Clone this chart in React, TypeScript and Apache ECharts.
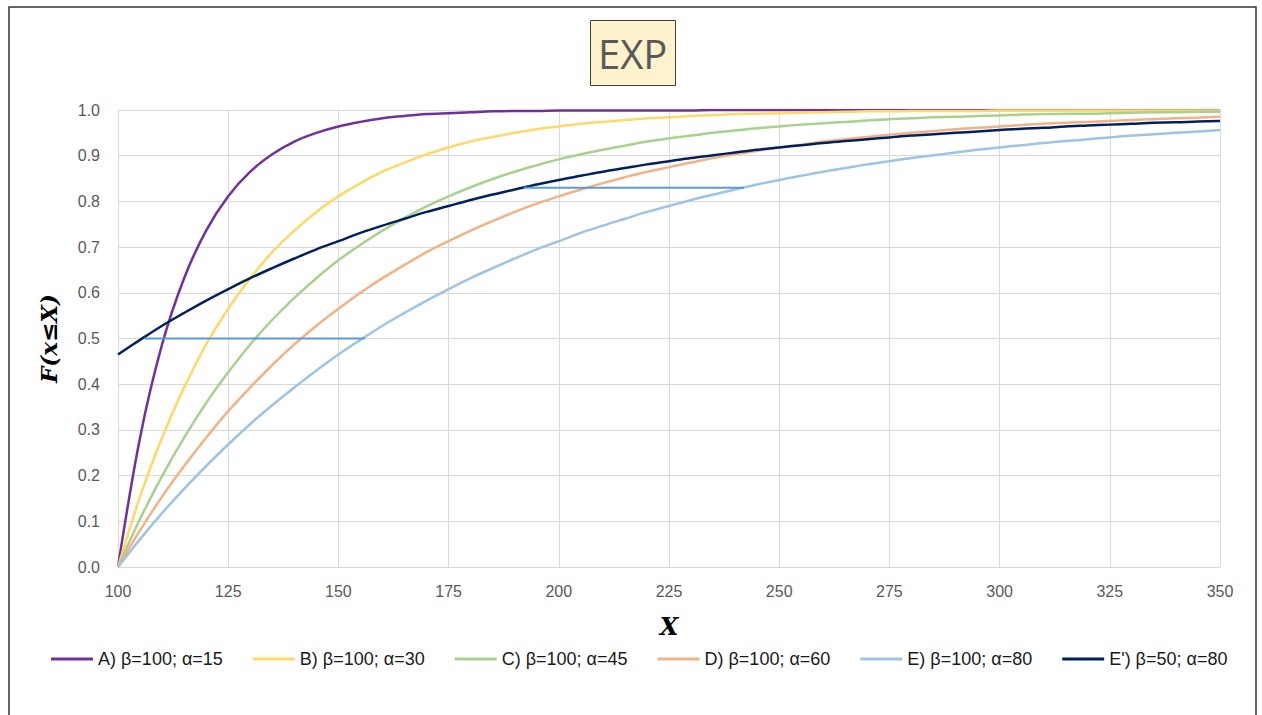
import React, { useEffect, useRef } from "react";
import * as echarts from "echarts";

const xValues = [100,105,110,115,120,125,130,135,140,145,150,155,160,165,170,175,180,185,190,195,200,205,210,215,220,225,230,235,240,245,250,255,260,265,270,275,280,285,290,295,300,305,310,315,320,325,330,335,340,345,350];

const seriesA = [0,0.283,0.487,0.632,0.736,0.811,0.865,0.903,0.931,0.950,0.964,0.974,0.982,0.987,0.991,0.993,0.995,0.997,0.998,0.998,0.999,0.999,0.999,0.999,0.999,0.999,0.999,1,1,1,1,1,1,1,1,1,1,1,1,1,1,1,1,1,1,1,1,1,1,1,1];
const seriesB = [0,0.154,0.283,0.393,0.487,0.565,0.632,0.689,0.736,0.777,0.811,0.840,0.865,0.885,0.903,0.918,0.931,0.941,0.950,0.958,0.964,0.970,0.974,0.978,0.982,0.984,0.987,0.989,0.991,0.992,0.993,0.994,0.995,0.996,0.997,0.997,0.998,0.998,0.998,0.998,0.999,0.999,0.999,0.999,0.999,0.999,0.999,0.999,0.999,0.999,0.999];
const seriesC = [0,0.105,0.199,0.283,0.359,0.426,0.487,0.541,0.589,0.632,0.671,0.705,0.736,0.764,0.789,0.811,0.831,0.849,0.865,0.879,0.892,0.903,0.913,0.922,0.931,0.938,0.944,0.950,0.955,0.960,0.964,0.968,0.971,0.974,0.977,0.980,0.982,0.984,0.985,0.987,0.988,0.990,0.991,0.992,0.992,0.993,0.994,0.995,0.995,0.996,0.996];
const seriesD = [0,0.080,0.154,0.221,0.283,0.341,0.393,0.442,0.487,0.528,0.565,0.600,0.632,0.661,0.689,0.713,0.736,0.757,0.777,0.795,0.811,0.826,0.840,0.853,0.865,0.875,0.885,0.895,0.903,0.911,0.918,0.924,0.931,0.936,0.941,0.946,0.950,0.954,0.958,0.961,0.964,0.967,0.970,0.972,0.974,0.976,0.978,0.980,0.982,0.983,0.985];
const seriesE = [0,0.061,0.118,0.171,0.221,0.268,0.313,0.354,0.393,0.430,0.465,0.497,0.528,0.556,0.583,0.608,0.632,0.654,0.675,0.695,0.713,0.731,0.747,0.762,0.777,0.790,0.803,0.815,0.826,0.837,0.847,0.856,0.865,0.873,0.881,0.888,0.895,0.901,0.907,0.913,0.918,0.923,0.928,0.932,0.936,0.940,0.944,0.947,0.950,0.953,0.956];
const seriesE2 = [0.465,0.497,0.528,0.556,0.583,0.608,0.632,0.654,0.675,0.695,0.713,0.731,0.747,0.762,0.777,0.790,0.803,0.815,0.826,0.837,0.847,0.856,0.865,0.873,0.881,0.888,0.895,0.901,0.907,0.913,0.918,0.923,0.928,0.932,0.936,0.940,0.944,0.947,0.950,0.953,0.956,0.959,0.961,0.964,0.966,0.968,0.970,0.972,0.973,0.975,0.976];

const seriesNames = [
  "A) β=100; α=15",
  "B) β=100; α=30",
  "C) β=100; α=45",
  "D) β=100; α=60",
  "E) β=100; α=80",
  "E') β=50; α=80",
];
const seriesColors = ["#7030A0", "#FFD966", "#A9D18E", "#F4B183", "#9DC3E6", "#002060"];
const allSeries = [seriesA, seriesB, seriesC, seriesD, seriesE, seriesE2];

const refLine1X = [106, 156];
const refLine1Y = 0.5;
const refLine2X = [192, 242];
const refLine2Y = 0.83;

export default function App() {
  const ref = useRef<HTMLDivElement>(null);
  useEffect(() => {
    if (!ref.current) return;
    const chart = echarts.init(ref.current, undefined, { renderer: "svg" });
    const lineSeries = allSeries.map((vals, i) => ({
      name: seriesNames[i],
      type: "line",
      data: xValues.map((x, j) => [x, vals[j]]),
      smooth: 0.35,
      showSymbol: false,
      lineStyle: { color: seriesColors[i], width: 2.5 },
      itemStyle: { color: seriesColors[i] },
      z: i === 5 ? 4 : 3,
    }));
    const refSeries = [
      { x: refLine1X, y: refLine1Y },
      { x: refLine2X, y: refLine2Y },
    ].map((r, k) => ({
      name: "ref" + k,
      type: "line",
      data: r.x.map((x) => [x, r.y]),
      showSymbol: false,
      lineStyle: { color: "#5B9BD5", width: 2 },
      z: 5,
    }));
    chart.setOption({
      animation: false,
      title: {
        text: "EXP",
        left: 590,
        top: 20,
        backgroundColor: "#FFF2CC",
        borderColor: "#404040",
        borderWidth: 1,
        padding: [13, 8],
        textStyle: {
          fontFamily: "Open Sans",
          fontSize: 40,
          fontWeight: "normal",
          color: "#595959",
        },
      },
      graphic: [
        {
          type: "rect",
          shape: { x: 9, y: 7, width: 1247, height: 800 },
          style: { fill: "none", stroke: "#333333", lineWidth: 1.5 },
          silent: true,
        },
      ],
      grid: { left: 118, right: 42, top: 110, bottom: 148 },
      legend: {
        data: seriesNames,
        top: 645,
        left: 46,
        itemWidth: 42,
        itemHeight: 3,
        itemGap: 30,
        icon: "rect",
        textStyle: { fontFamily: "Liberation Sans", fontSize: 18, color: "#1a1a1a" },
      },
      xAxis: {
        type: "value",
        min: 100,
        max: 350,
        interval: 25,
        name: "X",
        nameLocation: "middle",
        nameGap: 47,
        nameTextStyle: {
          fontFamily: "DejaVu Serif",
          fontStyle: "italic",
          fontWeight: "bold",
          fontSize: 24,
          color: "#000",
        },
        axisLine: { show: true, lineStyle: { color: "#D9D9D9", width: 1 } },
        axisTick: { show: false },
        splitLine: { show: true, lineStyle: { color: "#D9D9D9", width: 1 } },
        axisLabel: { fontFamily: "Liberation Sans", fontSize: 16, color: "#595959", margin: 16 },
      },
      yAxis: {
        type: "value",
        min: 0,
        max: 1,
        interval: 0.1,
        name: "F(x≤X)",
        nameLocation: "middle",
        nameGap: 58,
        nameRotate: 90,
        nameTextStyle: {
          fontFamily: "DejaVu Serif",
          fontStyle: "italic",
          fontWeight: "bold",
          fontSize: 23,
          color: "#000",
        },
        axisLine: { show: false },
        axisTick: { show: false },
        splitLine: { show: true, lineStyle: { color: "#D9D9D9", width: 1 } },
        axisLabel: {
          fontFamily: "Liberation Sans",
          fontSize: 16,
          color: "#595959",
          margin: 18,
          formatter: (v: number) => v.toFixed(1),
        },
      },
      series: [...lineSeries, ...refSeries],
    });
    return () => chart.dispose();
  }, []);
  return (
    <div
      ref={ref}
      style={{ position: "absolute", left: 0, top: 0, width: 1262, height: 715, background: "#fff" }}
    />
  );
}
